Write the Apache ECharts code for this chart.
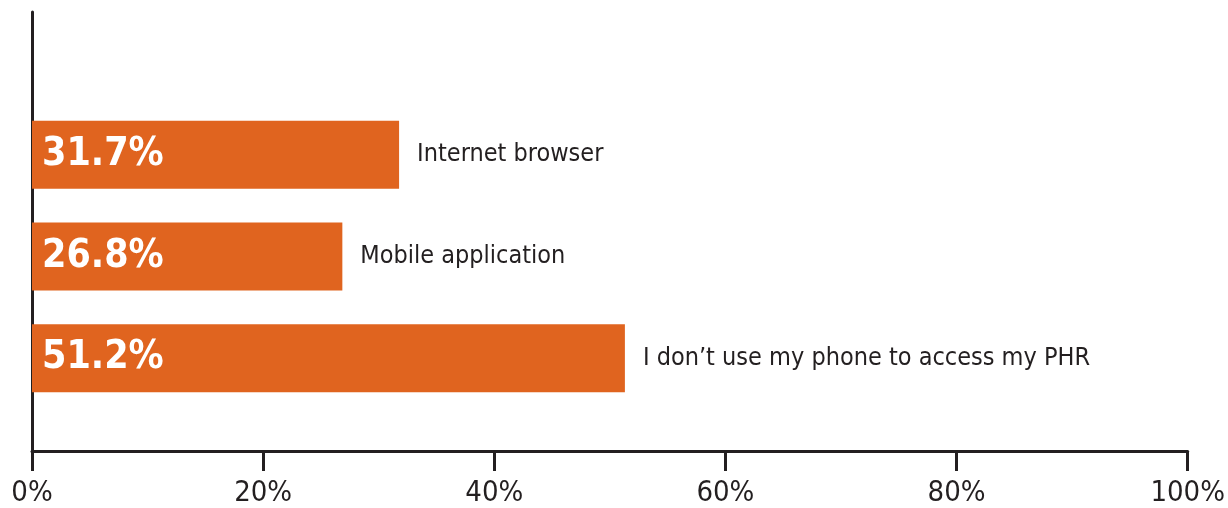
<!DOCTYPE html>
<html>
<head>
<meta charset="utf-8">
<script src="https://cdn.jsdelivr.net/npm/echarts@6/dist/echarts.min.js"></script>
<style>
html,body{margin:0;padding:0;background:#fff;}
#chart{width:1228px;height:508px;}
</style>
</head>
<body>
<div id="chart"></div>
<script>
// Data (top to bottom order)
const categories = ['Internet browser', 'Mobile application', 'I don\u2019t use my phone to access my PHR'];
const values = [31.7, 26.8, 51.2];
const axisMin = 0, axisMax = 100, axisStep = 20;

const FONT = '"Liberation Sans Narrow", "DejaVu Sans Condensed", "Liberation Sans", sans-serif';
const INK = '#231f20';
const ORANGE = '#e0641f';

const chart = echarts.init(document.getElementById('chart'), null, {renderer: 'canvas'});
chart.setOption({
  backgroundColor: '#ffffff',
  animation: false,
  grid: [
    {left: 32, right: 38, top: 12, bottom: 56},
    {left: 32, right: 38, top: 104, bottom: 99}
  ],
  xAxis: [
    {
      gridIndex: 0, type: 'value', min: axisMin, max: axisMax, interval: axisStep,
      axisLine: {show: true, lineStyle: {color: INK, width: 3}},
      axisTick: {show: true, inside: false, length: 20, lineStyle: {color: INK, width: 3}},
      splitLine: {show: false},
      axisLabel: {formatter: '{value}%', color: INK, fontFamily: FONT, fontSize: 29, margin: 28}
    },
    {
      gridIndex: 1, type: 'value', min: axisMin, max: axisMax, show: false
    }
  ],
  yAxis: [
    {
      gridIndex: 0, type: 'value', min: 0, max: 1,
      axisLine: {show: true, lineStyle: {color: INK, width: 3}},
      axisTick: {show: false}, axisLabel: {show: false}, splitLine: {show: false}
    },
    {
      gridIndex: 1, type: 'category', data: categories, inverse: true, show: false
    }
  ],
  series: [
    {
      type: 'bar', xAxisIndex: 1, yAxisIndex: 1, data: values, barWidth: 68,
      itemStyle: {color: ORANGE},
      z: 5,
      label: {
        show: true, position: 'insideLeft', distance: 10,
        formatter: p => p.value.toFixed(1) + '%',
        color: '#ffffff', fontFamily: FONT, fontWeight: 'bold', fontSize: 39
      }
    },
    {
      type: 'bar', xAxisIndex: 1, yAxisIndex: 1, data: values, barWidth: 68, barGap: '-100%',
      itemStyle: {color: 'rgba(0,0,0,0)'},
      z: 4,
      label: {
        show: true, position: 'right', distance: 18,
        formatter: p => p.name,
        color: INK, fontFamily: FONT, fontSize: 25
      }
    }
  ]
});
</script>
</body>
</html>
